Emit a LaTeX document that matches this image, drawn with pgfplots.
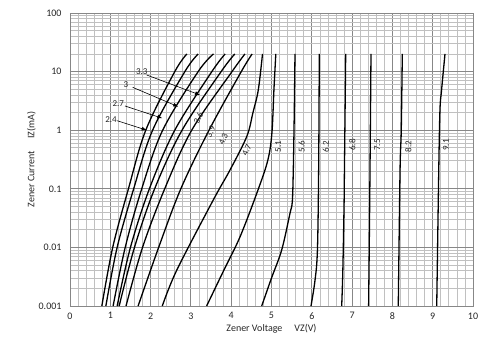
\documentclass[border=0pt]{standalone}
\usepackage{fontspec}
\setmainfont{Carlito}
\usepackage{pgfplots}
\pgfplotsset{compat=1.18}
\usetikzlibrary{arrows.meta}
\definecolor{majgrid}{RGB}{135,135,135}
\definecolor{mingrid}{RGB}{192,192,192}
\pgfplotsset{zc/.style={black, line width=1.3pt, smooth, tension=0.55, mark=none}}
\begin{document}
\begin{tikzpicture}
\begin{axis}[name=ax, scale only axis, width=403pt, height=293pt,
 xmin=0, xmax=10, ymin=0.001, ymax=100, ymode=log,
 xtick={0,...,10}, minor x tick num=4,
 ytick={0.001,0.01,0.1,1,10,100}, yticklabels={0.001,0.01,0.1,1,10,100},
 minor ytick={0.002,0.003,0.004,0.005,0.006,0.007,0.008,0.009,0.02,0.03,0.04,0.05,0.06,0.07,0.08,0.09,0.2,0.3,0.4,0.5,0.6,0.7,0.8,0.9,2,3,4,5,6,7,8,9,20,30,40,50,60,70,80,90},
 grid=both, major grid style={majgrid, line width=0.9pt}, minor grid style={mingrid, line width=0.7pt},
 axis line style={majgrid, line width=0.9pt},
 major tick length=0pt, minor tick length=0pt,
 tick label style={font=\fontsize{10}{12}\selectfont, text=black!85},
 /pgf/number format/assume math mode=true,
 xlabel={Zener Voltage\hspace{1.2em}VZ(V)}, ylabel={Zener Current\hspace{1.2em}IZ(mA)},
 label style={font=\fontsize{10}{12}\selectfont, text=black!85},
 xlabel style={yshift=2pt}, ylabel style={yshift=-4pt},
 xticklabel style={yshift=-3pt}, yticklabel style={xshift=-5pt},
]
% 2.4
\addplot[zc] coordinates {(0.79,0.001)(1.06,0.01)(1.45,0.1)(1.88,1)(2.60,10)(2.90,20)};
% 2.7
\addplot[zc] coordinates {(0.89,0.001)(1.17,0.01)(1.58,0.1)(2.05,1)(2.85,10)(3.18,20)};
% 3.0
\addplot[zc] coordinates {(1.07,0.001)(1.37,0.01)(1.78,0.1)(2.30,1)(3.18,10)(3.56,20)};
% 3.3
\addplot[zc] coordinates {(1.17,0.001)(1.50,0.01)(1.97,0.1)(2.60,1)(3.52,10)(3.85,20)};
% 3.6
\addplot[zc] coordinates {(1.22,0.001)(1.60,0.01)(2.10,0.1)(2.78,1)(3.75,10)(4.09,20)};
% 3.9
\addplot[zc] coordinates {(1.39,0.001)(1.80,0.01)(2.35,0.1)(3.02,1)(4.02,10)(4.34,20)};
% 4.3
\addplot[zc] coordinates {(1.69,0.001)(2.20,0.01)(2.75,0.1)(3.45,1)(4.25,10)(4.52,20)};
% 4.7
\addplot[zc] coordinates {(2.29,0.001)(2.65,0.0041)(3.556,0.0646)(3.97,0.209)(4.385,0.776)(4.54,2.0)(4.672,4.85)(4.777,20)};
% 5.1
\addplot[zc] coordinates {(3.39,0.001)(3.82,0.00411)(4.22,0.0152)(4.665,0.0955)(4.91,0.31)(5.01,0.895)(5.06,4.85)(5.107,20)};
% 5.6
\addplot[zc] coordinates {(4.757,0.001)(5.0,0.0030)(5.253,0.00904)(5.459,0.0382)(5.516,0.0603)(5.541,0.209)(5.565,2.0)(5.583,20)};
% 6.2
\addplot[zc] coordinates {(5.98,0.001)(6.08,0.00275)(6.14,0.0091)(6.17,0.21)(6.186,20)};
% 6.8
\addplot[zc] coordinates {(6.742,0.001)(6.77,0.004)(6.80,0.05)(6.81,0.21)(6.841,20)};
% 7.5
\addplot[zc] coordinates {(7.41,0.001)(7.44,0.1)(7.469,20)};
% 8.2
\addplot[zc] coordinates {(8.146,0.001)(8.19,0.21)(8.22,1)(8.246,20)};
% 9.1
\addplot[zc] coordinates {(9.10,0.001)(9.15,0.2)(9.18,2.2)(9.22,4.85)(9.305,20)};

\begin{scope}[font=\fontsize{9}{10}\selectfont, text=black!85]
\node at (axis cs:1.78,10) {3.3};
\draw[black, line width=0.6pt, -{Latex[length=5pt,width=4pt]}] (axis cs:1.903,8.75) -- (axis cs:3.226,3.99);
\node at (axis cs:1.39,5.9) {3};
\draw[black, line width=0.6pt, -{Latex[length=5pt,width=4pt]}] (axis cs:1.556,5.39) -- (axis cs:2.687,2.52);
\node at (axis cs:1.199,2.88) {2.7};
\draw[black, line width=0.6pt, -{Latex[length=5pt,width=4pt]}] (axis cs:1.365,2.59) -- (axis cs:2.290,1.60);
\node at (axis cs:1.017,1.53) {2.4};
\draw[black, line width=0.6pt, -{Latex[length=5pt,width=4pt]}] (axis cs:1.174,1.45) -- (axis cs:1.903,1.0);
\node[rotate=65] at (axis cs:3.184,1.6) {3.6};
\node[rotate=65] at (axis cs:3.491,0.94) {3.9};
\node[rotate=65] at (axis cs:3.804,0.70) {4.3};
\node[rotate=65] at (axis cs:4.385,0.46) {4.7};
\node[rotate=90] at (axis cs:5.17,0.52) {5.1};
\node[rotate=90] at (axis cs:5.75,0.52) {5.6};
\node[rotate=90] at (axis cs:6.35,0.52) {6.2};
\node[rotate=90] at (axis cs:7.005,0.56) {6.8};
\node[rotate=90] at (axis cs:7.626,0.56) {7.5};
\node[rotate=90] at (axis cs:8.395,0.52) {8.2};
\node[rotate=90] at (axis cs:9.33,0.56) {9.1};
\end{scope}
\end{axis}
\pgfresetboundingbox
\path ([shift={(-70pt,-50pt)}]ax.south west) rectangle ([shift={(18pt,13pt)}]ax.north east);
\end{tikzpicture}
\end{document}
